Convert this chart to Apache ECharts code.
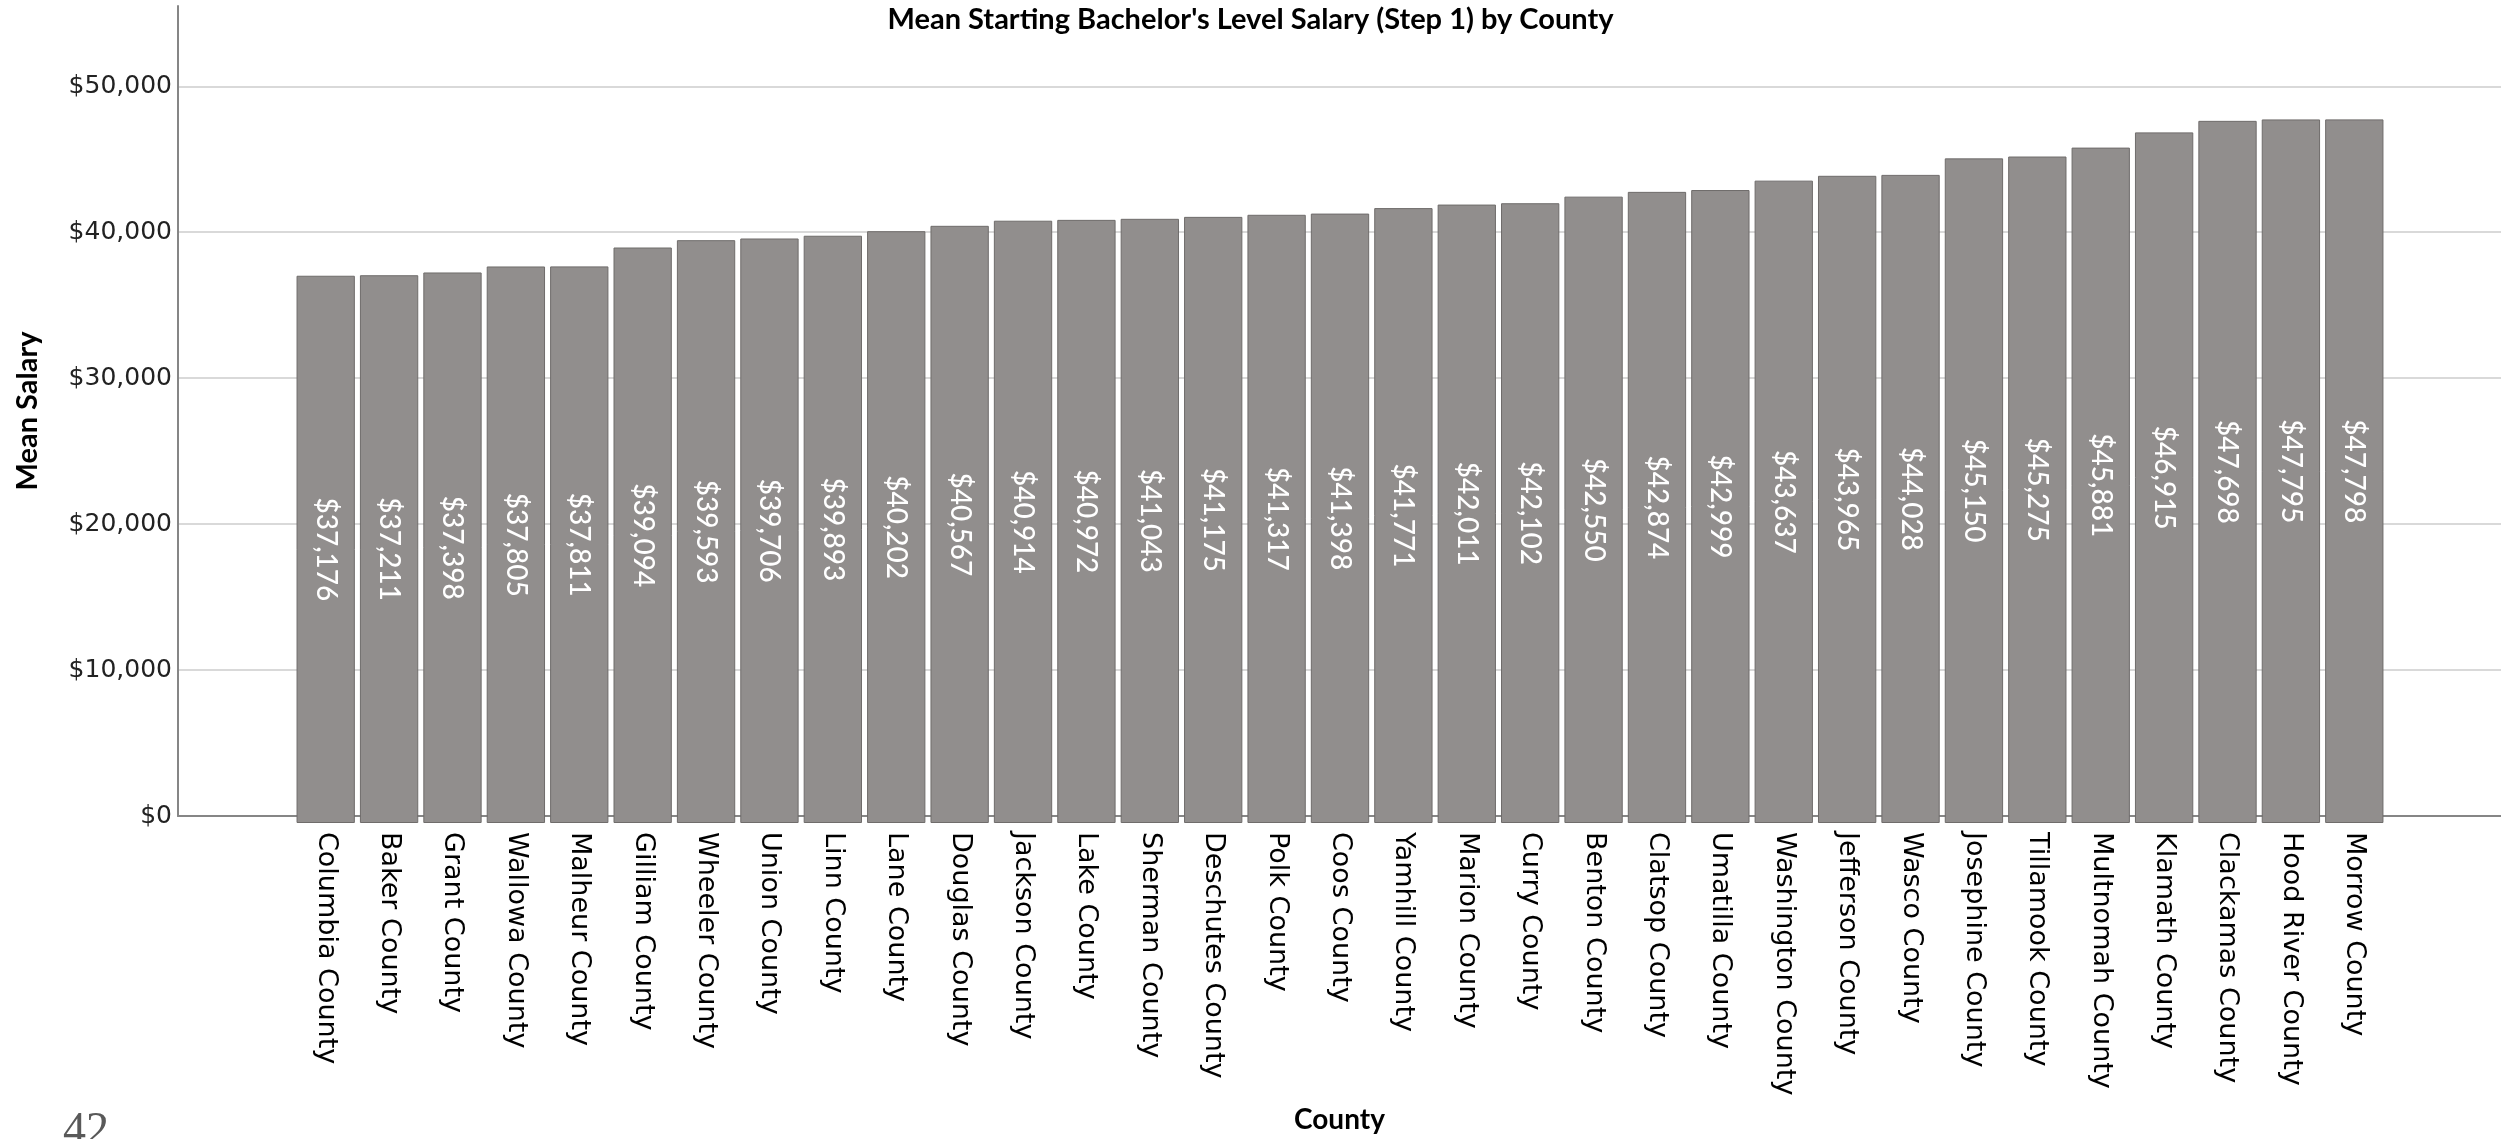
<!DOCTYPE html>
<html>
<head>
<meta charset="utf-8">
<title>Mean Starting Bachelor's Level Salary (Step 1) by County</title>
<script src="https://cdn.jsdelivr.net/npm/echarts@6/dist/echarts.min.js"></script>
<style>
  html, body { margin: 0; padding: 0; background: #fff; }
  #chart { width: 2501px; height: 1139px; }
</style>
</head>
<body>
<div id="chart"></div>
<script>
var counties = ['Columbia County', 'Baker County', 'Grant County', 'Wallowa County', 'Malheur County',
  'Gilliam County', 'Wheeler County', 'Union County', 'Linn County', 'Lane County', 'Douglas County',
  'Jackson County', 'Lake County', 'Sherman County', 'Deschutes County', 'Polk County', 'Coos County',
  'Yamhill County', 'Marion County', 'Curry County', 'Benton County', 'Clatsop County', 'Umatilla County',
  'Washington County', 'Jefferson County', 'Wasco County', 'Josephine County', 'Tillamook County',
  'Multnomah County', 'Klamath County', 'Clackamas County', 'Hood River County', 'Morrow County'];
var salaries = [37176, 37211, 37398, 37805, 37811, 39094, 39593, 39706, 39893, 40202, 40567,
  40914, 40972, 41043, 41175, 41317, 41398, 41771, 42011, 42102, 42550, 42874, 42999,
  43637, 43965, 44028, 45150, 45275, 45881, 46915, 47698, 47795, 47798];
var yTicks = [0, 10000, 20000, 30000, 40000, 50000];

function money(v) {
  return '$' + Number(v).toLocaleString('en-US');
}

(function () {
  var myChart = echarts.init(document.getElementById('chart'));
  var yMax = 55500; // axis runs a bit above the last tick
  var option = {
    backgroundColor: '#fff',
    animation: false,
    title: [{
      text: "Mean Starting Bachelor's Level Salary (Step 1) by County",
      left: 'center',
      top: 0,
      textStyle: { fontFamily: 'Lato', fontWeight: 'bold', fontSize: 29, color: '#000' }
    }, {
      text: '42', // page number at the bottom corner
      left: 58,
      top: 1104,
      textStyle: { fontFamily: 'Liberation Serif', fontWeight: 'normal', fontSize: 46, color: '#595959' }
    }],
    grid: [
      { left: 178, right: 0, top: 6, bottom: 316 },   // axes + gridlines
      { left: 294, right: 115, top: 6, bottom: 316 }  // bars
    ],
    xAxis: [{
      gridIndex: 0,
      type: 'value',
      min: 0,
      max: 1,
      name: 'County',
      nameLocation: 'middle',
      nameGap: 290,
      nameTextStyle: { fontFamily: 'Lato', fontWeight: 'bold', fontSize: 28, color: '#000' },
      axisLine: { show: true, lineStyle: { color: '#868686', width: 2 } },
      axisTick: { show: false },
      axisLabel: { show: false },
      splitLine: { show: false }
    }, {
      gridIndex: 1,
      type: 'category',
      data: counties,
      axisLine: { show: false },
      axisTick: { show: false },
      axisLabel: {
        rotate: -90,
        interval: 0,
        margin: 9,
        fontFamily: 'DejaVu Sans',
        fontSize: 27,
        color: '#000'
      }
    }],
    yAxis: [{
      gridIndex: 0,
      type: 'value',
      min: 0,
      max: yMax,
      interval: 10000,
      name: 'Mean Salary',
      nameLocation: 'middle',
      nameGap: 136,
      nameTextStyle: { fontFamily: 'Lato', fontWeight: 'bold', fontSize: 29, color: '#000' },
      axisLine: { show: true, lineStyle: { color: '#868686', width: 2 } },
      axisTick: { show: false },
      axisLabel: {
        showMaxLabel: false,
        margin: 6,
        fontFamily: 'DejaVu Sans',
        fontSize: 25,
        color: '#222',
        formatter: function (v) { return yTicks.indexOf(v) >= 0 ? money(v) : ''; }
      },
      splitLine: { show: true, showMaxLine: false, lineStyle: { color: '#d9d9d9', width: 2 } }
    }, {
      gridIndex: 1,
      type: 'value',
      min: 0,
      max: yMax,
      show: false,
      splitLine: { show: false }
    }],
    series: [{
      name: 'Mean Salary',
      type: 'bar',
      xAxisIndex: 1,
      yAxisIndex: 1,
      data: salaries,
      barCategoryGap: '8%',
      itemStyle: { color: '#918e8d', borderColor: '#6f6c6b', borderWidth: 1 },
      label: {
        show: true,
        position: 'inside',
        rotate: -90,
        fontFamily: 'Lato',
        fontWeight: 500,
        fontSize: 28,
        color: '#fff',
        formatter: function (p) { return money(p.value); }
      }
    }]
  };
  myChart.setOption(option);
  window.addEventListener('resize', function () {
    myChart.resize();
  });
})();
</script>
</body>
</html>
